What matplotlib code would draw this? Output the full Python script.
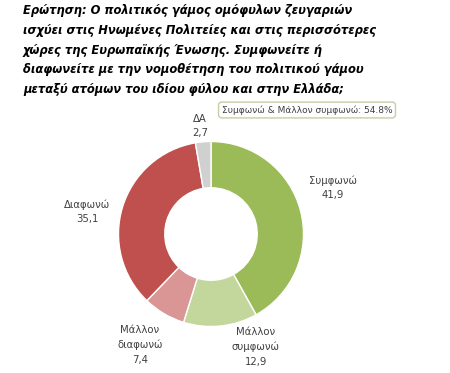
import matplotlib.pyplot as plt

# Data
labels = ['Συμφωνώ\n41,9', 'Μάλλον\nσυμφωνώ\n12,9', 'Μάλλον\nδιαφωνώ\n7,4', 'Διαφωνώ\n35,1', 'ΔΑ\n2,7']
values = [41.9, 12.9, 7.4, 35.1, 2.7]
colors = ['#9BBB59', '#C3D69B', '#D99694', '#C0504D', '#D0D0D0']
summary = 'Συμφωνώ & Μάλλον συμφωνώ: 54.8%'
title = ('Ερώτηση: Ο πολιτικός γάμος ομόφυλων ζευγαριών\n'
         'ισχύει στις Ηνωμένες Πολιτείες και στις περισσότερες\n'
         'χώρες της Ευρωπαϊκής Ένωσης. Συμφωνείτε ή\n'
         'διαφωνείτε με την νομοθέτηση του πολιτικού γάμου\n'
         'μεταξύ ατόμων του ιδίου φύλου και στην Ελλάδα;')

# Layout (pixels, origin bottom-left)
W, H = 450, 373
center = (211, H - 234)
radius = 92.5
label_pos = [(333, H - 188), (256, H - 347), (140, H - 345), (87, H - 212), (200, H - 126)]

fig = plt.figure(figsize=(W / 100, H / 100), dpi=100)
ax = fig.add_axes([0, 0, 1, 1])

ax.pie(values, colors=colors, startangle=90, counterclock=False,
       center=center, radius=radius,
       wedgeprops=dict(width=radius * 0.5, edgecolor='white', linewidth=1))
ax.set_xlim(0, W)
ax.set_ylim(0, H)
ax.set_aspect('equal')
ax.axis('off')

for lab, (x, y) in zip(labels, label_pos):
    ax.text(x, y, lab, ha='center', va='center', fontsize=7.3,
            color='#404040', linespacing=1.55)

ax.text(307, H - 110, summary, ha='center', va='center', fontsize=6.5,
        color='#404040',
        bbox=dict(boxstyle='round,pad=0.35', facecolor='white',
                  edgecolor='#c4cfa6', linewidth=1))

fig.text(23 / W, 1 - 4 / H, title, ha='left', va='top', fontsize=8.3,
         fontweight='bold', fontstyle='italic', color='black', linespacing=1.68)

fig.savefig('out.png', dpi=100, facecolor='white')
